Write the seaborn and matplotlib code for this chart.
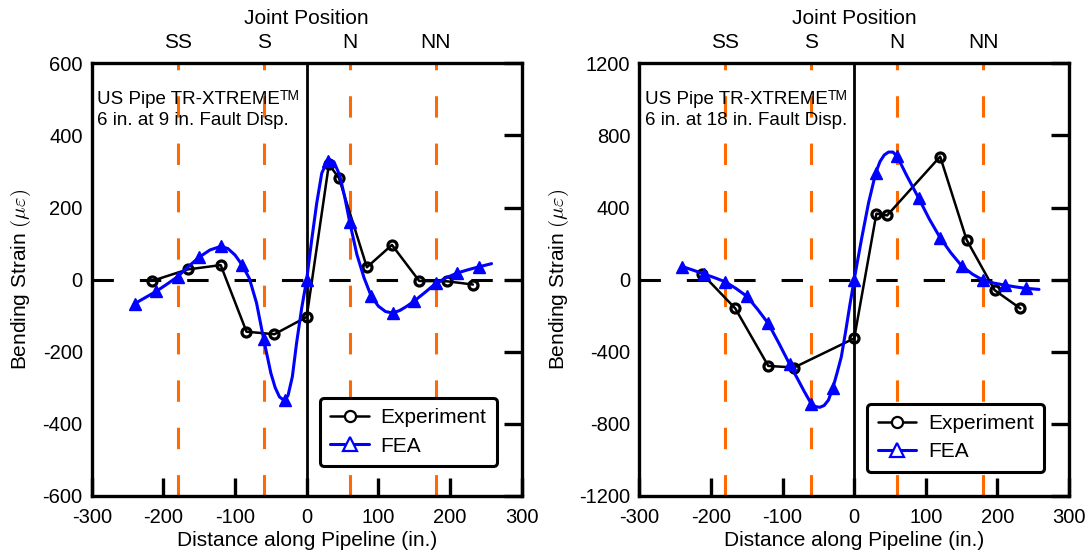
import matplotlib
matplotlib.use('Agg')
import matplotlib.pyplot as plt
from matplotlib.lines import Line2D
import seaborn as sns

sns.set_style('white')
plt.rcParams['font.family'] = ['Liberation Sans', 'DejaVu Sans']
plt.rcParams['mathtext.fontset'] = 'cm'
plt.rcParams['axes.unicode_minus'] = False
plt.rcParams['text.color'] = 'black'
plt.rcParams['axes.labelcolor'] = 'black'

joint_x = [-180, -60, 60, 180]
joint_labels = ['SS', 'S', 'N', 'NN']
x_ticks = [-300, -200, -100, 0, 100, 200, 300]

# FEA nodes that carry a marker
fea_node_x = [-240, -210, -180, -150, -120, -90, -60, -30, 0, 30, 60, 90, 120, 150, 180, 210, 240]

# 9 in. fault displacement
exp9_x = [-216, -166, -120, -84, -45, 0, 31, 45, 84, 119, 157, 196, 232]
exp9_y = [-4, 28, 40, -145, -152, -104, 320, 282, 34, 96, -4, -5, -14]
fea9_x = [-240, -225, -210, -195, -180, -165, -150, -135, -120, -110, -100, -90, -80, -70,
          -60, -50, -44, -38, -32, -30, -26, -20, -14, -7, 0, 7, 14, 21, 27, 30, 38, 46, 53,
          60, 70, 80, 90, 100, 110, 120, 130, 140, 150, 165, 180, 195, 210, 225, 240, 258]
fea9_y = [-67, -50, -33, -13, 8, 36, 62, 82, 92, 86, 68, 40, 3, -65,
          -166, -260, -300, -326, -335, -334, -322, -270, -175, -80, 0, 110, 212, 295, 322, 328, 327, 290, 230,
          160, 70, 5, -46, -74, -89, -93, -86, -74, -60, -36, -11, 5, 18, 27, 35, 44]

# 18 in. fault displacement
exp18_x = [-212, -166, -120, -84, 0, 31, 46, 120, 157, 196, 232]
exp18_y = [30, -161, -480, -489, -327, 366, 356, 683, 220, -59, -161]
fea18_x = [-240, -225, -210, -195, -180, -165, -150, -135, -120, -105, -90, -80, -70, -60,
           -54, -48, -42, -36, -30, -24, -18, -12, -6, 0, 10, 20, 30, 36, 42, 48, 54, 60,
           73, 90, 105, 120, 135, 150, 165, 180, 195, 210, 225, 240, 258]
fea18_y = [72, 52, 31, 10, -13, -50, -93, -165, -244, -355, -472, -545, -620, -690,
           -706, -710, -700, -670, -605, -520, -430, -290, -140, 0, 220, 425, 592, 655, 692, 708, 708, 684,
           580, 452, 335, 232, 148, 76, 30, -4, -20, -31, -41, -49, -55]

orange = '#FF6A00'
blue = '#0000FF'


def draw(ax, exp_x, exp_y, fea_x, fea_y, ylim, ystep, note, legend_anchor):
    for jx in joint_x:
        ax.axvline(jx, color=orange, lw=2.2, dashes=(7, 8.5), zorder=1)
    ax.axhline(0, color='black', lw=2.2, dashes=(7, 8.5), zorder=1)
    ax.axvline(0, color='black', lw=2, zorder=1)

    sns.lineplot(x=exp_x, y=exp_y, ax=ax, color='black', linewidth=1.8, marker='o',
                 markersize=6.5, markerfacecolor='none', markeredgecolor='black',
                 markeredgewidth=2.3, estimator=None, sort=False, zorder=3)
    every = [i for i, v in enumerate(fea_x) if v in fea_node_x]
    sns.lineplot(x=fea_x, y=fea_y, ax=ax, color=blue, linewidth=2.2, marker='^',
                 markersize=8.5, markerfacecolor=blue, markeredgecolor=blue,
                 markeredgewidth=1, markevery=every, estimator=None, sort=False, zorder=4)

    ax.set_xlim(-300, 300)
    ax.set_ylim(-ylim, ylim)
    ax.set_xticks(x_ticks)
    ax.set_yticks(list(range(-ylim, ylim + 1, ystep)))
    ax.tick_params(direction='in', length=13, width=2.4, top=True, right=True,
                   labelsize=14.5, colors='black')
    ax.tick_params(axis='x', pad=9)
    ax.tick_params(axis='y', pad=6.5)
    for s in ax.spines.values():
        s.set_visible(True)
        s.set_linewidth(2.4)
        s.set_color('black')
    ax.set_xlabel('Distance along Pipeline (in.)', fontsize=15, labelpad=3)
    ax.set_ylabel(r'Bending Strain $(\mu\varepsilon)$', fontsize=15)

    top = ax.twiny()
    top.set_xlim(ax.get_xlim())
    top.set_xticks(joint_x, joint_labels)
    top.tick_params(axis='x', length=0, pad=8, labelsize=15, colors='black')
    top.set_xlabel('Joint Position', fontsize=15, labelpad=7)
    for s in top.spines.values():
        s.set_visible(False)

    t1 = ax.text(0.013, 0.9056, 'US Pipe TR-XTREME', transform=ax.transAxes,
                 fontsize=13.5, va='baseline', ha='left')
    ax.annotate('TM', xy=(1, 1), xycoords=t1, xytext=(0, 1.5), textcoords='offset points',
                fontsize=10, va='top', ha='left')
    ax.text(0.013, 0.8576, note, transform=ax.transAxes, fontsize=13.5,
            va='baseline', ha='left')

    handles = [Line2D([], [], color='black', lw=1.8, marker='o', ms=8, mfc='white',
                      mec='black', mew=1.6),
               Line2D([], [], color=blue, lw=2.2, marker='^', ms=10, mfc='white',
                      mec=blue, mew=1.6)]
    leg = ax.legend(handles, ['Experiment', 'FEA'], loc='lower right',
                    bbox_to_anchor=legend_anchor, fontsize=15, frameon=True, fancybox=True,
                    edgecolor='black', framealpha=1, handlelength=1.85, handletextpad=0.56,
                    labelspacing=0.45, borderpad=0.5, borderaxespad=0)
    leg.get_frame().set_linewidth(2.2)
    leg.set_zorder(10)


fig = plt.figure(figsize=(10.91, 5.57), dpi=100)
ax1 = fig.add_axes([0.08405, 0.1104, 0.3941, 0.7756])
ax2 = fig.add_axes([0.5860, 0.1104, 0.3939, 0.7756])

draw(ax1, exp9_x, exp9_y, fea9_x, fea9_y, 600, 200, '6 in. at 9 in. Fault Disp.', (0.9426, 0.068))
draw(ax2, exp18_x, exp18_y, fea18_x, fea18_y, 1200, 400, '6 in. at 18 in. Fault Disp.', (0.942, 0.055))

ax1.yaxis.set_label_coords(-0.136, 0.5)
ax2.yaxis.set_label_coords(-0.158, 0.5)

fig.savefig('out.png', dpi=100)
